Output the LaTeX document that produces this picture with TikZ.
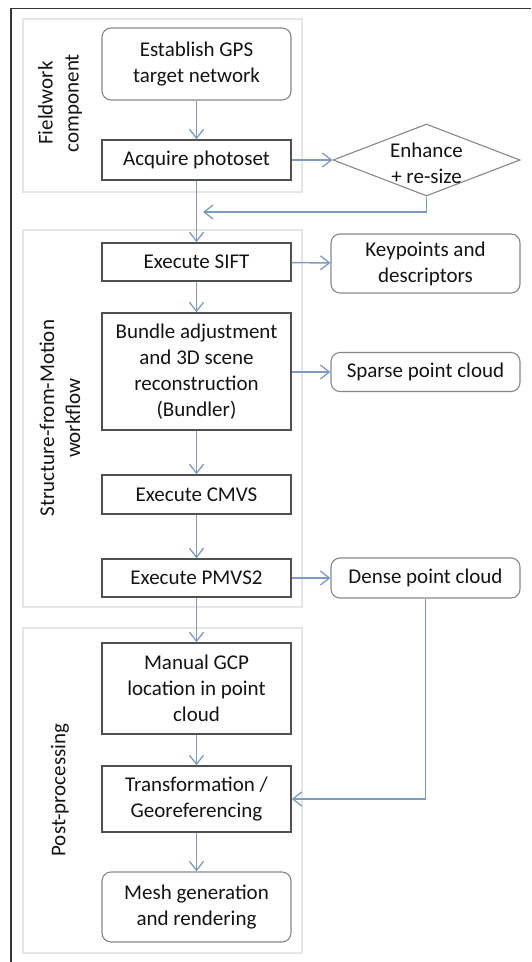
\documentclass[tikz,border=0pt]{standalone}
\usepackage{fontspec}
\setmainfont{Carlito}
\usetikzlibrary{arrows.meta,shapes.geometric}
\definecolor{arrowc}{RGB}{125,155,192}
\definecolor{boxc}{RGB}{80,80,80}
\definecolor{rboxc}{RGB}{135,135,135}
\definecolor{grpc}{RGB}{230,230,230}
\definecolor{framec}{RGB}{55,55,55}
\definecolor{txtc}{RGB}{20,20,20}
\begin{document}
\begin{tikzpicture}[x=1pt,y=-1pt,
  every node/.style={font=\fontsize{21}{26}\selectfont, text=txtc, align=center, inner sep=0pt},
  sqbox/.style={draw=boxc, line width=1.4pt, minimum width=189pt},
  rbox/.style={draw=rboxc, line width=1.1pt, rounded corners=9pt, minimum width=189pt},
  grp/.style={draw=grpc, line width=1.5pt},
  flow/.style={draw=arrowc, line width=1.5pt, -{Straight Barb[length=9pt,width=14pt,line width=1.3pt]}},
  sidelabel/.style={rotate=90}
]
\useasboundingbox (0,0) rectangle (531,962);
% outer frame
\draw[framec, line width=1.6pt] (531,8.5) -- (11,8.5) -- (11,962);
% groups
\draw[grp] (23,19) rectangle (302,192);
\draw[grp] (23,230) rectangle (302,607);
\draw[grp] (23,628) rectangle (302,953);
\node[sidelabel] (lab1) at (60,103) {Fieldwork\\component};
\node[sidelabel] (lab2) at (60,418) {Structure-from-Motion\\workflow};
\node[sidelabel] (lab3) at (60,790) {Post-processing};
% nodes
\node[rbox, minimum height=72pt] (gps) at (196.5,64) {Establish GPS\\target network};
\node[sqbox, minimum height=40pt] (acq) at (196.5,160) {Acquire photoset};
\node[draw=rboxc, line width=1.1pt, diamond, minimum width=187pt, minimum height=72pt] (enh) at (426.5,160) {};
\node (enht) at (426.5,163) {Enhance\\+ re-size};
\node[sqbox, minimum height=38pt] (sift) at (196.5,262) {Execute SIFT};
\node[rbox, minimum height=59pt] (key) at (425.5,263.5) {Keypoints and\\descriptors};
\node[sqbox, minimum height=117pt] (bund) at (196.5,371.5) {Bundle adjustment\\and 3D scene\\reconstruction\\(Bundler)};
\node[rbox, minimum height=39pt] (sparse) at (425.5,372) {Sparse point cloud};
\node[sqbox, minimum height=39pt] (cmvs) at (196.5,494.5) {Execute CMVS};
\node[sqbox, minimum height=38pt] (pmvs) at (196.5,578) {Execute PMVS2};
\node[rbox, minimum height=40pt] (dense) at (425.5,578) {Dense point cloud};
\node[sqbox, minimum height=91pt] (gcp) at (196.5,688.5) {Manual GCP\\location in point\\cloud};
\node[sqbox, minimum height=66pt] (trans) at (196.5,799) {Transformation /\\Georeferencing};
\node[rbox, minimum height=70pt] (mesh) at (196.5,907) {Mesh generation\\and rendering};
\coordinate (merge) at (203,212);
% connectors
\draw[flow] (gps) -- (acq);
\draw[flow] (acq) -- (enh.west);
\draw[flow] (acq) -- (sift);
\draw[flow] (enh.south) |- (merge);
\draw[flow] (sift) -- (key);
\draw[flow] (sift) -- (bund);
\draw[flow] (bund.east |- sparse.west) -- (sparse.west);
\draw[flow] (bund) -- (cmvs);
\draw[flow] (cmvs) -- (pmvs);
\draw[flow] (pmvs) -- (dense);
\draw[flow] (pmvs) -- (gcp);
\draw[flow] (gcp) -- (trans);
\draw[flow] (trans) -- (mesh);
\draw[flow] (dense.south) |- (trans.east);
\end{tikzpicture}
\end{document}
